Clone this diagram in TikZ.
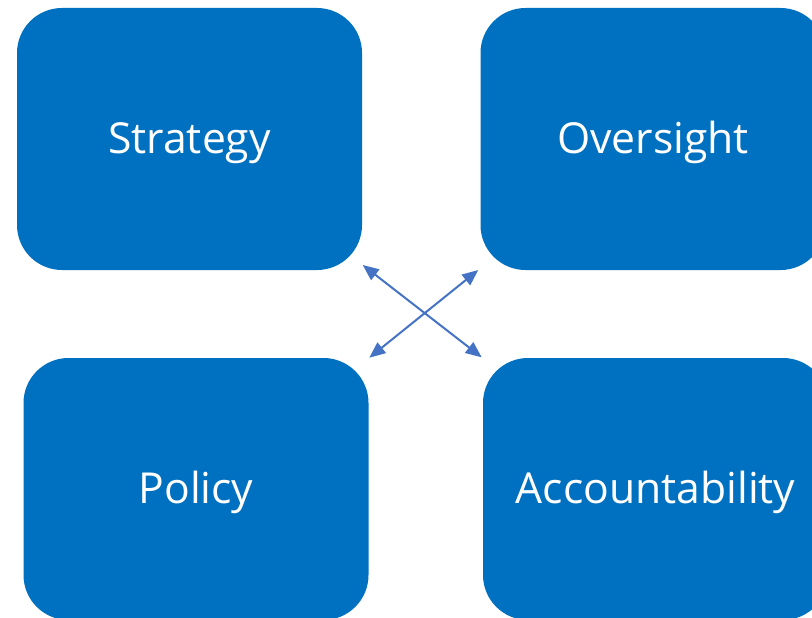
\documentclass[tikz,border=0pt]{standalone}
\usepackage{fontspec}
\setmainfont{Open Sans}
\usetikzlibrary{arrows.meta}
\definecolor{cajaazul}{HTML}{0070C0}
\definecolor{flechaazul}{HTML}{4472C4}

\begin{document}
\begin{tikzpicture}[x=0.75pt,y=-0.75pt,
    caja/.style={fill=cajaazul, text=white, rounded corners=33.75pt,
        minimum width=258.75pt, minimum height=196.5pt,
        text height=24pt, text depth=2pt,
        font=\fontsize{32}{38}\selectfont},
    enlace/.style={{Triangle[length=12pt,width=10pt]}-{Triangle[length=12pt,width=10pt]}, line width=1.5pt, flechaazul}]
    % Limites del grafico
    \useasboundingbox (0,0) rectangle (812,617);
    \clip (0,0) rectangle (812,617);

    % Dibujar las cuatro cajas
    \node[caja] (estrategia) at (189.5,139) {Strategy};
    \node[caja] (supervision) at (653,139) {Oversight};
    \node[caja] (politica) at (196,489) {Policy};
    \node[caja] (responsabilidad) at (655.5,489) {Accountability};

    % Definir los extremos de las flechas
    \coordinate (A1) at (362.7,265);
    \coordinate (A2) at (481.7,357.3);
    \coordinate (B1) at (478.3,270);
    \coordinate (B2) at (369.3,357.7);

    % Dibujar las flechas cruzadas
    \draw[enlace] (A1) -- (A2);
    \draw[enlace] (B1) -- (B2);

\end{tikzpicture}
\end{document}
